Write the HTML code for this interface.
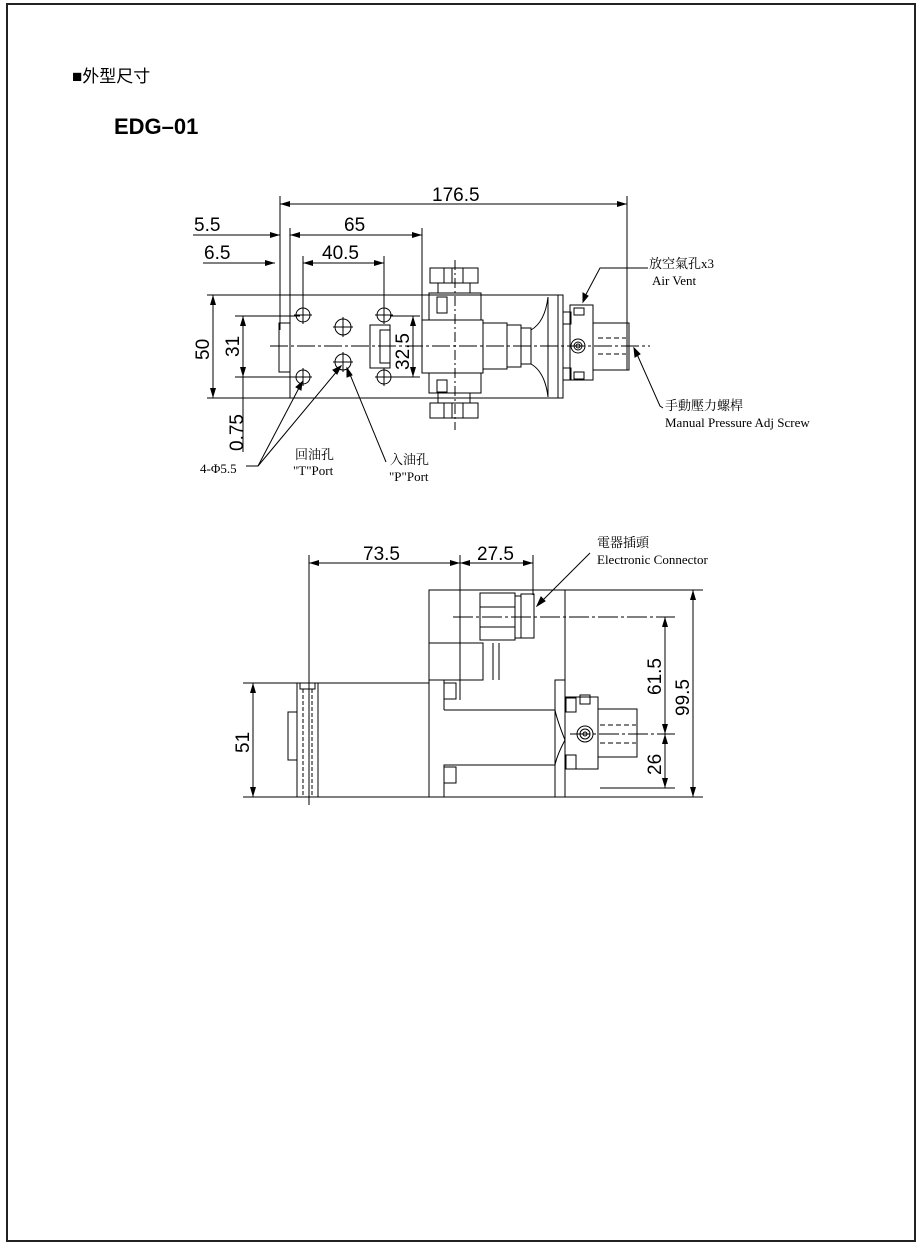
<!DOCTYPE html>
<html><head><meta charset="utf-8"><style>
html,body{margin:0;padding:0;background:#fff;}
svg{display:block}
text{font-family:"Liberation Sans","Noto Sans CJK TC",sans-serif;fill:#000}
.s{font-family:"Liberation Serif","Noto Serif CJK SC",serif}
</style></head><body>
<svg width="920" height="1247" viewBox="0 0 920 1247" xmlns="http://www.w3.org/2000/svg">
<defs>
<marker id="a" viewBox="0 0 10 6" refX="10" refY="3" markerWidth="10" markerHeight="6" orient="auto-start-reverse" markerUnits="userSpaceOnUse"><path d="M0,0L10,3L0,6z" fill="#000"/></marker>
</defs>
<rect x="7" y="4" width="908" height="1237" fill="none" stroke="#222" stroke-width="2"/>
<text x="72" y="82" font-size="17">■外型尺寸</text>
<text x="114" y="134" font-size="22" font-weight="bold">EDG–01</text>

<g stroke="#000" stroke-width="1" fill="none">
<!-- TOP VIEW dims -->
<line x1="280" y1="196" x2="280" y2="330"/>
<line x1="627" y1="196" x2="627" y2="370"/>
<line x1="280" y1="204" x2="627" y2="204" marker-start="url(#a)" marker-end="url(#a)"/>
<line x1="193" y1="235" x2="280" y2="235" marker-end="url(#a)"/>
<line x1="290" y1="228" x2="290" y2="300"/>
<line x1="290" y1="235" x2="422" y2="235" marker-start="url(#a)" marker-end="url(#a)"/>
<line x1="422" y1="228" x2="422" y2="320"/>
<line x1="203" y1="263" x2="275" y2="263" marker-end="url(#a)"/>
<line x1="303" y1="256" x2="303" y2="320"/>
<line x1="303" y1="263" x2="384" y2="263" marker-start="url(#a)" marker-end="url(#a)"/>
<line x1="384" y1="256" x2="384" y2="320"/>
<line x1="207" y1="295" x2="290" y2="295"/>
<line x1="207" y1="398" x2="290" y2="398"/>
<line x1="213" y1="295" x2="213" y2="398" marker-start="url(#a)" marker-end="url(#a)"/>
<line x1="235" y1="316" x2="300" y2="316"/>
<line x1="235" y1="377" x2="300" y2="377"/>
<line x1="243" y1="316" x2="243" y2="377" marker-start="url(#a)" marker-end="url(#a)"/>
<line x1="243" y1="377" x2="243" y2="452"/>
<line x1="390" y1="316" x2="420" y2="316"/>
<line x1="390" y1="377" x2="420" y2="377"/>
<line x1="413" y1="316" x2="413" y2="377" marker-start="url(#a)" marker-end="url(#a)"/>
<!-- body -->
<rect x="290" y="295" width="268" height="103"/>
<rect x="279" y="323" width="11" height="49"/>
<line x1="270" y1="346" x2="650" y2="346" stroke-dasharray="18,3,3,3"/>
<circle cx="303" cy="315" r="7"/><circle cx="303" cy="377" r="7"/>
<circle cx="384" cy="315" r="7"/><circle cx="384" cy="377" r="7"/>
<circle cx="343" cy="327" r="8"/><circle cx="343" cy="362" r="8"/>
<path d="M333 327h20M343 317v20M333 362h20M343 352v20M303 306v18M294 315h18M303 368v18M294 377h18M384 306v18M375 315h18M384 368v18M375 377h18"/>
<rect x="370" y="325" width="20" height="43"/>
<rect x="380" y="330" width="10" height="33"/>
<!-- solenoid stack -->
<rect x="422" y="320" width="61" height="53"/>
<rect x="430" y="268" width="48" height="15"/><rect x="430" y="403" width="48" height="15"/>
<rect x="438" y="283" width="32" height="10"/><rect x="438" y="393" width="32" height="10"/>
<rect x="429" y="293" width="52" height="27"/><rect x="429" y="373" width="52" height="20"/>
<path d="M444 268v15M452 268v15M463 268v15M444 403v15M452 403v15M463 403v15"/>
<rect x="437" y="297" width="10" height="16"/><rect x="437" y="380" width="10" height="12"/>
<line x1="455" y1="260" x2="455" y2="430" stroke-dasharray="10,3,2,3"/>
<rect x="483" y="323" width="24" height="46"/>
<rect x="507" y="325" width="14" height="42"/>
<rect x="521" y="328" width="10" height="36"/>
<path d="M531 330Q545 322 548 297M531 364Q545 372 548 397"/>
<line x1="548" y1="297" x2="548" y2="397"/>
<rect x="558" y="295" width="5" height="103"/>
<!-- valve -->
<rect x="570" y="305" width="23" height="75"/>
<rect x="563" y="312" width="8" height="12"/><rect x="563" y="368" width="8" height="12"/>
<rect x="574" y="308" width="10" height="7"/><rect x="574" y="372" width="10" height="7"/>
<circle cx="578" cy="346" r="7"/><circle cx="578" cy="346" r="4"/><circle cx="578" cy="346" r="2"/>
<rect x="593" y="323" width="36" height="47"/>
<path d="M598 338h28M598 354h28" stroke-dasharray="5,3"/>
<!-- leaders -->
<path d="M648 268H600L583 300" /><path d="M583 302l0-9 5 3z" fill="#000"/>
<path d="M663 408L660 406L636 352"/><path d="M634 348l1 9 5-3z" fill="#000"/>
<path d="M246 466H258L300 386"/><path d="M302 382l-6 5 5 3z" fill="#000"/>
<path d="M258 466L338 370"/><path d="M341 366l-8 4 4 4z" fill="#000"/>
<path d="M386 462L349 372"/><path d="M347 368l0 9 5-2z" fill="#000"/>

<!-- BOTTOM VIEW -->
<line x1="309" y1="555" x2="309" y2="805"/>
<line x1="460" y1="555" x2="460" y2="700"/>
<line x1="533" y1="555" x2="533" y2="595"/>
<line x1="309" y1="563" x2="460" y2="563" marker-start="url(#a)" marker-end="url(#a)"/>
<line x1="460" y1="563" x2="533" y2="563" marker-start="url(#a)" marker-end="url(#a)"/>
<line x1="243" y1="683" x2="300" y2="683"/>
<line x1="243" y1="797" x2="300" y2="797"/>
<line x1="253" y1="683" x2="253" y2="797" marker-start="url(#a)" marker-end="url(#a)"/>
<rect x="297" y="683" width="21" height="114"/>
<rect x="300" y="683" width="15" height="6"/>
<path d="M303 689v108M312 689v108" stroke-dasharray="4,2"/>
<rect x="288" y="712" width="9" height="48"/>
<rect x="318" y="683" width="111" height="114"/>
<rect x="429" y="590" width="136" height="207"/>
<path d="M429 643H483V680H429" />
<path d="M493 643V680M499 643V680"/>
<rect x="444" y="683" width="12" height="16"/>
<path d="M444 710H555V765H444V797"/>
<path d="M444 710V680"/>
<rect x="444" y="767" width="12" height="16"/>
<path d="M555 710Q557 720 565 740M555 765Q557 755 565 740"/>
<line x1="555" y1="680" x2="555" y2="797"/>
<rect x="555" y="680" width="10" height="117"/>
<rect x="480" y="593" width="35" height="47"/>
<path d="M480 607h35M480 627h35"/>
<rect x="515" y="596" width="6" height="42"/>
<rect x="521" y="594" width="13" height="44"/>
<line x1="453" y1="617" x2="675" y2="617" stroke-dasharray="20,3,3,3"/>
<rect x="565" y="697" width="33" height="72"/>
<rect x="566" y="698" width="10" height="14"/><rect x="566" y="755" width="10" height="14"/>
<rect x="580" y="695" width="10" height="9"/>
<circle cx="585" cy="734" r="8"/><circle cx="585" cy="734" r="5"/><circle cx="585" cy="734" r="2"/>
<rect x="598" y="709" width="39" height="48"/>
<path d="M600 725h36M600 743h36" stroke-dasharray="5,3"/>
<line x1="570" y1="734" x2="675" y2="734" stroke-dasharray="20,3,3,3"/>
<line x1="540" y1="590" x2="703" y2="590"/>
<line x1="565" y1="797" x2="703" y2="797"/>
<line x1="600" y1="788" x2="675" y2="788"/>
<line x1="693" y1="590" x2="693" y2="797" marker-start="url(#a)" marker-end="url(#a)"/>
<line x1="665" y1="617" x2="665" y2="734" marker-start="url(#a)" marker-end="url(#a)"/>
<line x1="665" y1="734" x2="665" y2="788" marker-start="url(#a)" marker-end="url(#a)"/>
<path d="M590 553L540 603"/><path d="M537 606l4-9 4 4z" fill="#000"/>
</g>

<g font-size="19">
<text x="432" y="201">176.5</text>
<text x="194" y="231">5.5</text>
<text x="344" y="231">65</text>
<text x="204" y="259">6.5</text>
<text x="322" y="259">40.5</text>
<text x="363" y="560">73.5</text>
<text x="477" y="560">27.5</text>
<text transform="translate(209,360) rotate(-90)">50</text>
<text transform="translate(239,357) rotate(-90)">31</text>
<text transform="translate(409,370) rotate(-90)">32.5</text>
<text transform="translate(243,451) rotate(-90)">0.75</text>
<text transform="translate(249,753) rotate(-90)">51</text>
<text transform="translate(661,695) rotate(-90)">61.5</text>
<text transform="translate(661,775) rotate(-90)">26</text>
<text transform="translate(689,716) rotate(-90)">99.5</text>
</g>
<g font-size="13" class="s">
<text x="649" y="268" class="s">放空氣孔x3</text>
<text x="652" y="285" class="s">Air Vent</text>
<text x="665" y="410" class="s">手動壓力螺桿</text>
<text x="665" y="427" class="s">Manual Pressure Adj Screw</text>
<text x="200" y="473" class="s">4-Φ5.5</text>
<text x="295" y="459" class="s">回油孔</text>
<text x="293" y="475" class="s">"T"Port</text>
<text x="390" y="464" class="s">入油孔</text>
<text x="389" y="481" class="s">"P"Port</text>
<text x="597" y="547" class="s">電器插頭</text>
<text x="597" y="564" class="s">Electronic Connector</text>
</g>
</svg>
</body></html>
